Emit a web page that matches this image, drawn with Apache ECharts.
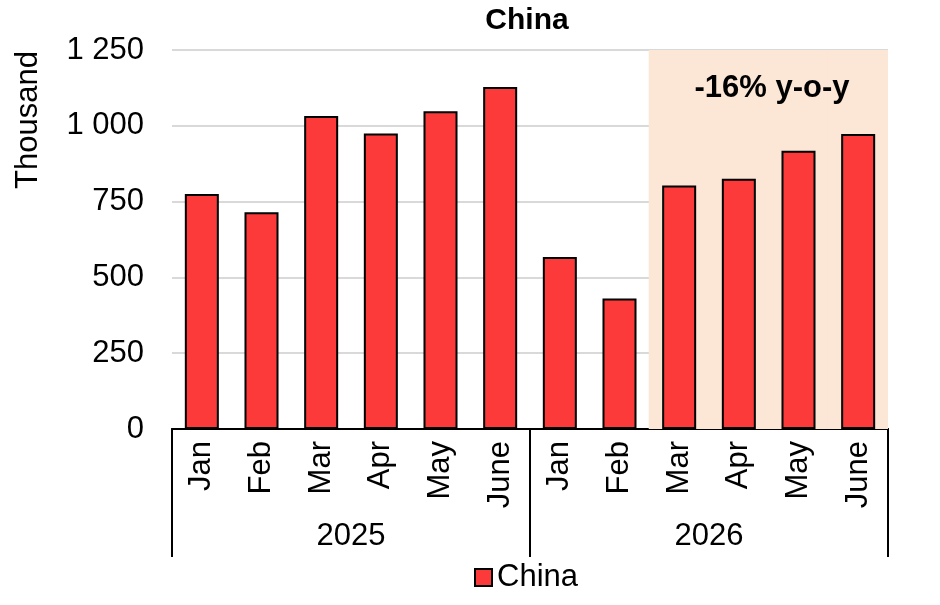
<!DOCTYPE html>
<html>
<head>
<meta charset="utf-8">
<script src="https://cdn.jsdelivr.net/npm/echarts@6/dist/echarts.min.js"></script>
<style>
html,body{margin:0;padding:0;background:#fff;}
#chart{width:940px;height:605px;}
</style>
</head>
<body>
<div id="chart"></div>
<script>
var months = ['Jan','Feb','Mar','Apr','May','June','Jan','Feb','Mar','Apr','May','June'];
var years = ['2025','2026'];
var china = [775, 715, 1032, 975, 1048, 1128, 567, 430, 803, 825, 918, 973];
var highlight = [null, null, null, null, null, null, null, null, 1250, 1250, 1250, 1250];
var yTicks = [0, 250, 500, 750, 1000, 1250];
var seriesName = 'China';
var noteText = '-16% y-o-y';

var FONT = '"Liberation Sans", Arial, sans-serif';
var FS = 31;
var chart = echarts.init(document.getElementById('chart'), null, {renderer: 'canvas'});

function fmt(v) {
  var s = String(v);
  return s.replace(/\B(?=(\d{3})+(?!\d))/g, ' ');
}

chart.setOption({
  animation: false,
  backgroundColor: '#ffffff',
  textStyle: {fontFamily: FONT},
  title: {
    text: 'China', left: 522, top: 1, textAlign: 'center',
    textStyle: {fontFamily: FONT, fontSize: 30, fontWeight: 'bold', color: '#000'}
  },
  grid: {left: 172, right: 52, top: 50, bottom: 176},
  legend: {
    data: [seriesName], bottom: 7, left: 469,
    itemWidth: 17, itemHeight: 17, itemGap: 8,
    icon: 'rect',
    textStyle: {fontFamily: FONT, fontSize: FS, color: '#000'}
  },
  xAxis: [
    {
      type: 'category', data: months, position: 'bottom',
      axisLine: {show: true, lineStyle: {color: '#000', width: 2}},
      axisTick: {show: false},
      axisLabel: {rotate: 90, margin: 12, interval: 0, fontFamily: FONT, fontSize: FS, color: '#000'}
    },
    {
      type: 'category', data: years, position: 'bottom',
      axisLine: {show: true, lineStyle: {color: '#000', width: 2}},
      axisTick: {show: true, length: 128, interval: 0, lineStyle: {color: '#000', width: 2}},
      axisLabel: {margin: 92, interval: 0, fontFamily: FONT, fontSize: FS, color: '#000'}
    },
    {
      type: 'category', data: months, show: false
    }
  ],
  yAxis: {
    type: 'value', min: yTicks[0], max: yTicks[yTicks.length - 1], interval: 250,
    axisLine: {show: false}, axisTick: {show: false},
    splitLine: {lineStyle: {color: '#d9d9d9', width: 2}},
    axisLabel: {margin: 28, fontFamily: FONT, fontSize: FS, color: '#000', formatter: fmt}
  },
  graphic: [
    {
      type: 'text', x: 28, y: 120, rotation: Math.PI / 2,
      style: {text: 'Thousand', font: FS + 'px ' + FONT, fill: '#000', align: 'center', verticalAlign: 'middle'}
    },
    {
      type: 'text', x: 772, y: 88, z: 10,
      style: {text: noteText, font: 'bold ' + FS + 'px ' + FONT, fill: '#000', align: 'center', verticalAlign: 'middle'}
    }
  ],
  series: [
    {
      name: 'shade', type: 'bar', xAxisIndex: 2, data: highlight,
      barWidth: '102%', silent: true, z: 1,
      itemStyle: {color: '#FCE6D6'},
      emphasis: {disabled: true}
    },
    {
      name: seriesName, type: 'bar', xAxisIndex: 0, data: china,
      barWidth: '57%', z: 3,
      itemStyle: {color: '#FC3A3A', borderColor: '#000', borderWidth: 2}
    }
  ]
});
</script>
</body>
</html>
